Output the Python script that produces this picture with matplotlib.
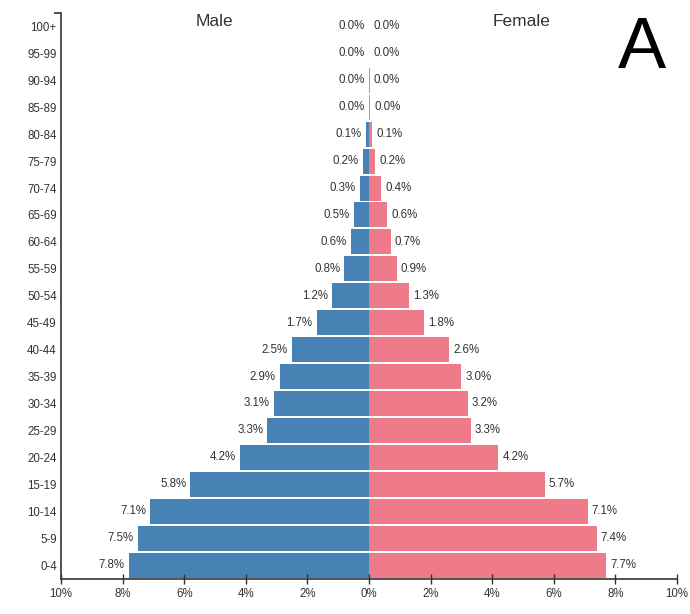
import matplotlib
matplotlib.use("Agg")
import matplotlib.pyplot as plt
import numpy as np

plt.rcParams['font.family'] = ['Liberation Sans', 'DejaVu Sans']

age_groups = ["0-4", "5-9", "10-14", "15-19", "20-24", "25-29", "30-34", "35-39",
              "40-44", "45-49", "50-54", "55-59", "60-64", "65-69", "70-74", "75-79",
              "80-84", "85-89", "90-94", "95-99", "100+"]
male = [7.8, 7.5, 7.1, 5.8, 4.2, 3.3, 3.1, 2.9, 2.5, 1.7, 1.2, 0.8, 0.6, 0.5, 0.3, 0.2,
        0.1, 0.01, 0.0, 0.0, 0.0]
female = [7.7, 7.4, 7.1, 5.7, 4.2, 3.3, 3.2, 3.0, 2.6, 1.8, 1.3, 0.9, 0.7, 0.6, 0.4, 0.2,
          0.1, 0.04, 0.02, 0.005, 0.0]
x_ticks = [-10, -8, -6, -4, -2, 0, 2, 4, 6, 8, 10]
x_tick_labels = ["10%", "8%", "6%", "4%", "2%", "0%", "2%", "4%", "6%", "8%", "10%"]

male_color = "#4682b4"
female_color = "#ef7a8a"
text_color = "#333333"

fig = plt.figure(figsize=(6.9, 6.14), dpi=100)
ax = fig.add_axes([61 / 690, 35.5 / 614, (677 - 61) / 690, (578.5 - 13) / 614])

y = np.arange(len(age_groups))
ax.barh(y, [-m for m in male], height=0.93, color=male_color, linewidth=0)
ax.barh(y, female, height=0.93, color=female_color, linewidth=0)

for yi, m, f in zip(y, male, female):
    ax.annotate(f"{m:.1f}%", xy=(-m, yi), xytext=(-4, 0), textcoords="offset pixels",
                ha="right", va="center", fontsize=8.3, color=text_color)
    ax.annotate(f"{f:.1f}%", xy=(f, yi), xytext=(4, 0), textcoords="offset pixels",
                ha="left", va="center", fontsize=8.3, color=text_color)

ax.set_xlim(-10, 10)
ax.set_ylim(-0.5, len(age_groups) - 0.5)
ax.set_yticks(y)
ax.set_yticklabels(age_groups, fontsize=8.3, color=text_color)
ax.set_yticks([len(age_groups) - 0.5], minor=True)
ax.set_xticks(x_ticks)
ax.set_xticklabels(x_tick_labels, fontsize=8.3, color=text_color)

for side in ["top", "right"]:
    ax.spines[side].set_visible(False)
for side in ["left", "bottom"]:
    ax.spines[side].set_color("#333333")
    ax.spines[side].set_linewidth(1.2)
ax.tick_params(axis="y", which="major", length=0, pad=3)
ax.tick_params(axis="y", which="minor", length=5, width=1.2, color="#333333")
ax.tick_params(axis="x", which="major", direction="inout", length=7, width=1,
               color="#333333", pad=3)

fig.text(214 / 690, 1 - 26.5 / 614, "Male", ha="center", va="baseline", fontsize=12.5, color=text_color)
fig.text(522 / 690, 1 - 26.5 / 614, "Female", ha="center", va="baseline", fontsize=12.5, color=text_color)
fig.text(641.5 / 690, 1 - 68 / 614, "A", ha="center", va="baseline", fontsize=52, color="black")

fig.savefig("out.png", dpi=100)
